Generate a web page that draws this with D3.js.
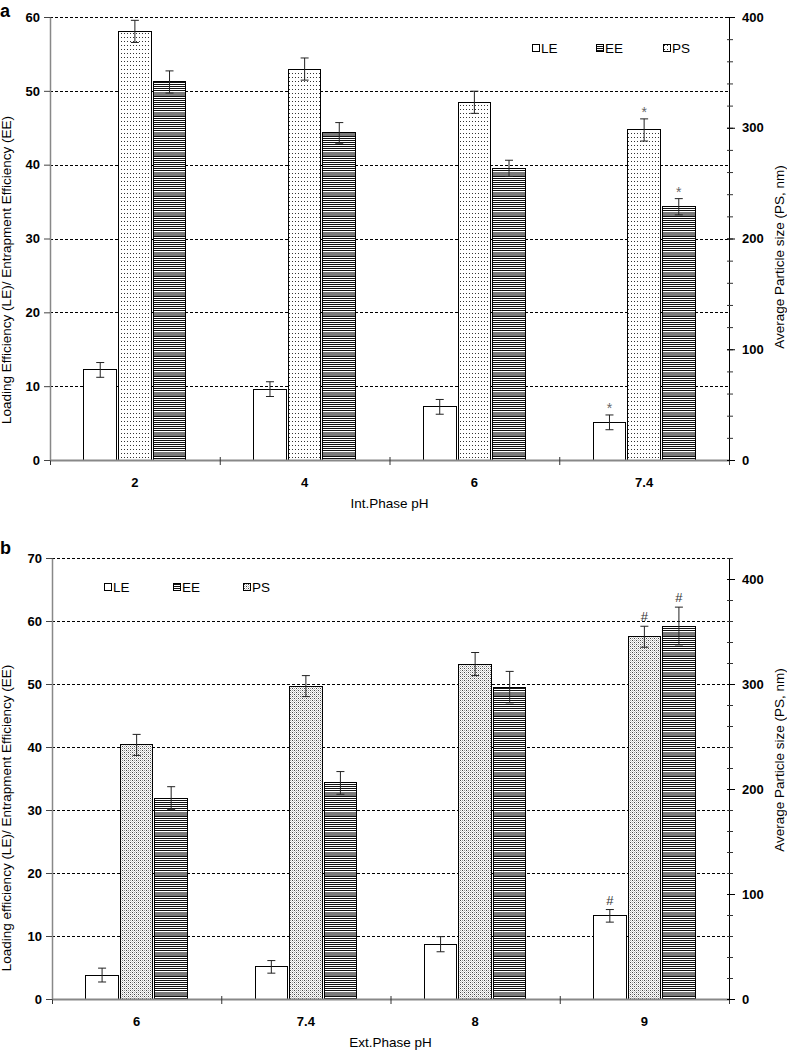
<!DOCTYPE html>
<html><head><meta charset="utf-8">
<script src="https://cdn.jsdelivr.net/npm/d3@7"></script>
<style>body{margin:0;background:#fff} svg{display:block} text{font-family:"Liberation Sans",Arial,sans-serif}</style>
</head><body><svg id="c" width="787" height="1050"></svg>
<script>
// ---- Panel a data ----
const catsA = ["2", "4", "6", "7.4"];
const leA = [12.2, 9.6, 7.2, 5.1];
const leAErr = [1.0, 1.0, 1.0, 1.0];
const eeA = [51.2, 44.3, 39.5, 34.3];
const eeAErr = [1.5, 1.4, 1.1, 1.1];
const psA = [387, 353, 323, 298];
const psAErr = [10, 10, 10, 10];
const markA = ["", "", "", "*"];
const leftTicksA = [0, 10, 20, 30, 40, 50, 60];
const rightTicksA = [0, 100, 200, 300, 400];
// ---- Panel b data ----
const catsB = ["6", "7.4", "8", "9"];
const leB = [3.8, 5.1, 8.7, 13.2];
const leBErr = [1.1, 1.0, 1.2, 1.0];
const eeB = [31.9, 34.3, 49.5, 59.2];
const eeBErr = [1.8, 1.8, 2.5, 3.0];
const psB = [242, 298, 319, 345];
const psBErr = [10, 10, 11, 10];
const markB = ["", "", "", "#"];
const leftTicksB = [0, 10, 20, 30, 40, 50, 60, 70];
const rightTicksB = [0, 100, 200, 300, 400];
const seriesOrder = ["LE", "PS", "EE"];
const legendLabels = ["LE", "EE", "PS"];

const svg = d3.select("#c");
svg.append("rect").attr("width", 787).attr("height", 1050).attr("fill", "#fff");
const defs = svg.append("defs");

// dotted pattern (panel a PS)
const pA = defs.append("pattern").attr("id", "psA").attr("patternUnits", "userSpaceOnUse").attr("width", 3).attr("height", 4);
pA.append("rect").attr("width", 3).attr("height", 4).attr("fill", "#fff");
pA.append("rect").attr("x", 1).attr("y", 1).attr("width", 1).attr("height", 1).attr("fill", "#333");
// stipple pattern (panel b PS)
const pB = defs.append("pattern").attr("id", "psB").attr("patternUnits", "userSpaceOnUse").attr("width", 4).attr("height", 4);
pB.append("rect").attr("width", 4).attr("height", 4).attr("fill", "#fff");
[[0,0,"#444"],[2,2,"#444"],[2,0,"#9a9a9a"],[0,2,"#9a9a9a"],[1,1,"#d0d0d0"],[3,3,"#d0d0d0"],[1,3,"#d8d8d8"],[3,1,"#d8d8d8"]].forEach(d => {
  pB.append("rect").attr("x", d[0]).attr("y", d[1]).attr("width", 1).attr("height", 1).attr("fill", d[2]);
});
// stripe pattern (EE)
const pE = defs.append("pattern").attr("id", "ee").attr("patternUnits", "userSpaceOnUse").attr("width", 4).attr("height", 20);
pE.append("rect").attr("width", 4).attr("height", 20).attr("fill", "#fff");
d3.range(0, 20).forEach(r => {
  let col = null;
  if (r >= 12 && r <= 15) col = "#7a7a7a";
  else if (r % 2 === 0) col = "#111";
  if (col) pE.append("rect").attr("x", 0).attr("y", r).attr("width", 4).attr("height", 1).attr("fill", col);
});

function panel(o) {
  const g = svg.append("g");
  const x0 = d3.scaleBand().domain(o.cats).range([o.L, o.R]).paddingInner(0.4).paddingOuter(0.2);
  const x1 = d3.scaleBand().domain(seriesOrder).range([0, x0.bandwidth()]).paddingInner(0.06);
  const yL = d3.scaleLinear().domain([0, o.leftMax]).range([o.B, o.T]);
  const yR = d3.scaleLinear().domain([0, o.rightMax]).range([o.B, o.T]);
  const xb = d3.scaleLinear().domain([0, o.cats.length]).range([o.L, o.R]);

  // gridlines
  g.append("g").selectAll("line").data(o.leftTicks.filter(d => d > 0)).join("line")
    .attr("x1", o.L).attr("x2", o.R).attr("y1", d => Math.round(yL(d)) + 0.5).attr("y2", d => Math.round(yL(d)) + 0.5)
    .attr("stroke", "#000").attr("stroke-width", 1).attr("stroke-dasharray", "3,2");

  // bars
  const series = [
    {key: "LE", vals: o.le, err: o.leErr, y: yL, fill: "#fff"},
    {key: "PS", vals: o.ps, err: o.psErr, y: yR, fill: "url(#" + o.psPat + ")"},
    {key: "EE", vals: o.ee, err: o.eeErr, y: yL, fill: "url(#ee)"}
  ];
  series.forEach(s => {
    const rows = o.cats.map((c, i) => ({c, v: s.vals[i], e: s.err[i], m: o.mark[i]}));
    const sg = g.append("g");
    sg.selectAll("rect").data(rows).join("rect")
      .attr("x", d => x0(d.c) + x1(s.key)).attr("width", x1.bandwidth())
      .attr("y", d => s.y(d.v)).attr("height", d => o.B - s.y(d.v))
      .attr("fill", s.fill).attr("stroke", "#000").attr("stroke-width", 1)
      .attr("shape-rendering", "crispEdges");
    const cx = d => x0(d.c) + x1(s.key) + x1.bandwidth() / 2;
    sg.selectAll("line.v").data(rows).join("line").attr("class", "v")
      .attr("x1", cx).attr("x2", cx).attr("y1", d => s.y(d.v + d.e)).attr("y2", d => s.y(d.v - d.e))
      .attr("stroke", "#222").attr("stroke-width", 1);
    ["t", "b"].forEach(k => {
      sg.selectAll("line." + k).data(rows).join("line").attr("class", k)
        .attr("x1", d => cx(d) - 4).attr("x2", d => cx(d) + 4)
        .attr("y1", d => s.y(k === "t" ? d.v + d.e : d.v - d.e)).attr("y2", d => s.y(k === "t" ? d.v + d.e : d.v - d.e))
        .attr("stroke", "#222").attr("stroke-width", 1);
    });
    sg.selectAll("text").data(rows.filter(d => d.m)).join("text")
      .attr("x", cx).attr("y", d => s.y(d.v + d.e) - o.markGap)
      .attr("text-anchor", "middle").attr("font-size", o.markSize).attr("fill", o.markColor).text(d => d.m);
  });

  // x axis line and boundary ticks
  const xa = g.append("g").attr("transform", `translate(0,${o.B})`)
    .call(d3.axisBottom(xb).tickValues(d3.range(0, o.cats.length + 1)).tickFormat("").tickSize(5).tickSizeOuter(0));
  xa.select(".domain").attr("stroke", "#888").attr("stroke-width", 2);
  xa.selectAll(".tick line").attr("stroke", "#333").attr("y1", -3);
  // category labels
  const xl = g.append("g").attr("transform", `translate(0,${o.B})`).call(d3.axisBottom(x0).tickSize(0).tickPadding(18));
  xl.select(".domain").remove();
  xl.selectAll("text").attr("font-size", 13).attr("font-weight", "bold").attr("fill", "#000")
    .attr("font-family", "'Liberation Sans',Arial,sans-serif");

  // left axis
  const la = g.append("g").attr("transform", `translate(${o.L},0)`)
    .call(d3.axisLeft(yL).tickValues(o.leftTicks).tickSize(6).tickPadding(4).tickSizeOuter(0));
  la.select(".domain").attr("stroke", "#888").attr("stroke-width", 1.5);
  la.selectAll(".tick line").attr("stroke", "#444");
  la.selectAll("text").attr("font-size", 13).attr("font-weight", "bold").attr("fill", "#000")
    .attr("font-family", "'Liberation Sans',Arial,sans-serif");

  // right axis (minor + major)
  const rm = g.append("g").attr("transform", `translate(${o.R},0)`)
    .call(d3.axisRight(yR).tickValues(d3.range(0, o.rightMax + 1, 20)).tickSize(4).tickFormat("").tickSizeOuter(0));
  rm.select(".domain").attr("stroke", "#000").attr("stroke-width", 1);
  rm.selectAll(".tick line").attr("x1", -2).attr("stroke", "#333");
  const ra = g.append("g").attr("transform", `translate(${o.R},0)`)
    .call(d3.axisRight(yR).tickValues(o.rightTicks).tickSize(6).tickPadding(7).tickSizeOuter(0));
  ra.select(".domain").remove();
  ra.selectAll(".tick line").attr("x1", -2).attr("stroke", "#000");
  ra.selectAll("text").attr("font-size", 13).attr("font-weight", "bold").attr("fill", "#000")
    .attr("font-family", "'Liberation Sans',Arial,sans-serif");

  // titles
  g.append("text").attr("x", (o.L + o.R) / 2).attr("y", o.B + 48).attr("text-anchor", "middle")
    .attr("font-size", 13.5).text(o.xTitle);
  g.append("text").attr("transform", `translate(11,${o.leftTitleY}) rotate(-90)`).attr("text-anchor", "middle")
    .attr("font-size", 13.5).text(o.yTitle);
  g.append("text").attr("transform", `translate(784,${o.rightTitleY}) rotate(-90)`).attr("text-anchor", "middle")
    .attr("font-size", 13.5).text("Average Particle size (PS, nm)");
  g.append("text").attr("x", 0).attr("y", o.letterY).attr("font-size", 18).attr("font-weight", "bold").text(o.letter);

  // legend
  const lg = g.append("g");
  const fills = {LE: "#fff", EE: "url(#ee)", PS: "url(#" + o.psPat + ")"};
  legendLabels.forEach((k, i) => {
    const lx = o.legX[i];
    lg.append("rect").attr("x", lx).attr("y", o.legY - 4).attr("width", 7).attr("height", 7)
      .attr("fill", fills[k]).attr("stroke", "#000").attr("stroke-width", 1).attr("shape-rendering", "crispEdges");
    lg.append("text").attr("x", lx + 9).attr("y", o.legY + 5).attr("font-size", 13.5).text(k);
  });
}

panel({cats: catsA, le: leA, leErr: leAErr, ee: eeA, eeErr: eeAErr, ps: psA, psErr: psAErr, mark: markA,
  leftTicks: leftTicksA, rightTicks: rightTicksA, leftMax: 60, rightMax: 400,
  L: 50, R: 729, T: 17, B: 460, psPat: "psA", markGap: 2, markSize: 14, markColor: "#666",
  xTitle: "Int.Phase pH", yTitle: "Loading Efficiency (LE)/ Entrapment Efficiency (EE)",
  leftTitleY: 270, rightTitleY: 257, letter: "a", letterY: 17, legX: [532, 596, 663], legY: 48});

panel({cats: catsB, le: leB, leErr: leBErr, ee: eeB, eeErr: eeBErr, ps: psB, psErr: psBErr, mark: markB,
  leftTicks: leftTicksB, rightTicks: rightTicksB, leftMax: 70, rightMax: 420,
  L: 52, R: 729, T: 558, B: 999, psPat: "psB", markGap: 5, markSize: 13, markColor: "#333",
  xTitle: "Ext.Phase pH", yTitle: "Loading efficiency (LE)/ Entrapment Efficiency (EE)",
  leftTitleY: 818, rightTitleY: 760, letter: "b", letterY: 554, legX: [104, 173, 243], legY: 587});
</script></body></html>
